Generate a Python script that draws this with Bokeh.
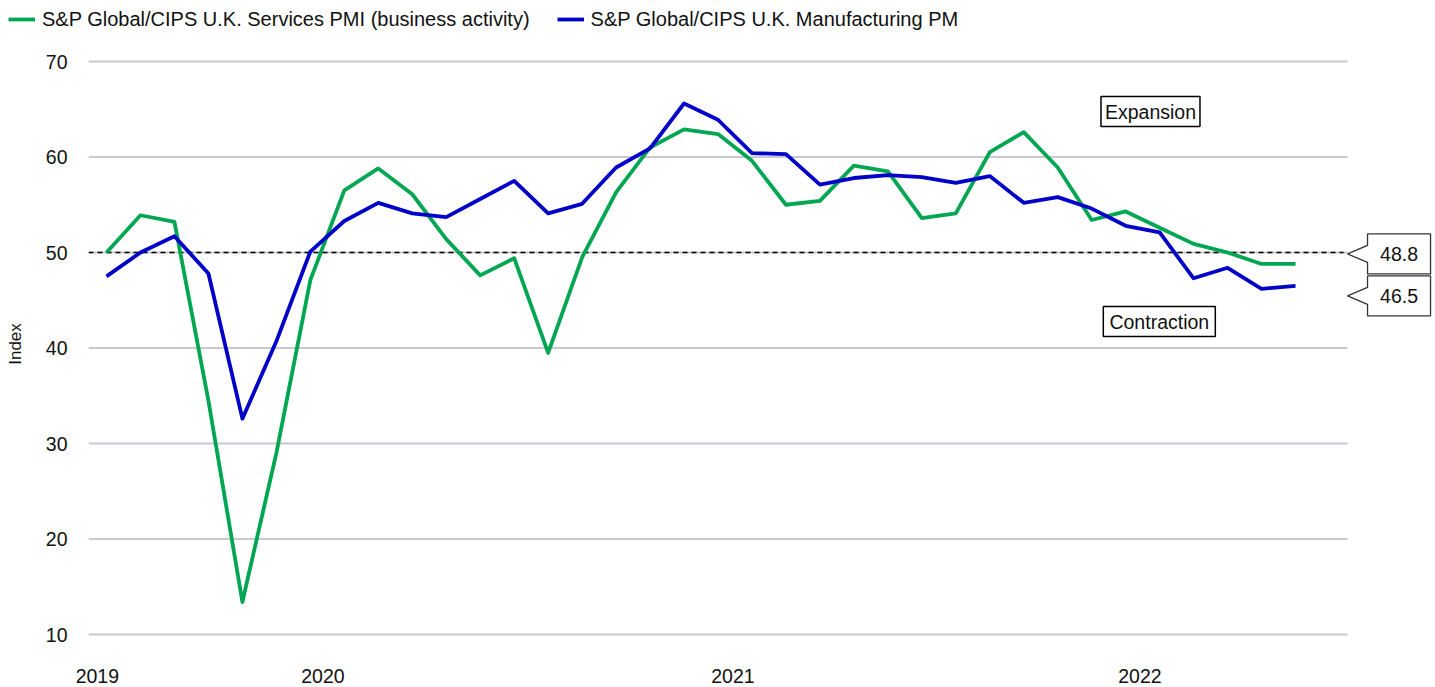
from bokeh.plotting import figure
from bokeh.models import FixedTicker, Legend, LegendItem
from bokeh.core.properties import value
from bokeh.embed import file_html
from bokeh.resources import INLINE

# ---------------- data ----------------
months = ["2019-12", "2020-01", "2020-02", "2020-03", "2020-04", "2020-05", "2020-06",
          "2020-07", "2020-08", "2020-09", "2020-10", "2020-11", "2020-12",
          "2021-01", "2021-02", "2021-03", "2021-04", "2021-05", "2021-06",
          "2021-07", "2021-08", "2021-09", "2021-10", "2021-11", "2021-12",
          "2022-01", "2022-02", "2022-03", "2022-04", "2022-05", "2022-06",
          "2022-07", "2022-08", "2022-09", "2022-10", "2022-11"]
services = [50.0, 53.9, 53.2, 34.5, 13.4, 29.0, 47.1, 56.5, 58.8, 56.1, 51.4, 47.6,
            49.4, 39.5, 49.5, 56.3, 61.0, 62.9, 62.4, 59.6, 55.0, 55.4, 59.1, 58.5,
            53.6, 54.1, 60.5, 62.6, 58.9, 53.4, 54.3, 52.6, 50.9, 50.0, 48.8, 48.8]
manufacturing = [47.5, 50.0, 51.7, 47.8, 32.6, 40.7, 50.1, 53.3, 55.2, 54.1, 53.7, 55.6,
                 57.5, 54.1, 55.1, 58.9, 60.9, 65.6, 63.9, 60.4, 60.3, 57.1, 57.8, 58.1,
                 57.9, 57.3, 58.0, 55.2, 55.8, 54.6, 52.8, 52.1, 47.3, 48.4, 46.2, 46.5]
series_names = ["S&P Global/CIPS U.K. Services PMI (business activity)",
                "S&P Global/CIPS U.K. Manufacturing PM"]
y_ticks = [10, 20, 30, 40, 50, 60, 70]
x_tick_pos = [-0.27, 6.37, 18.44, 30.42]
x_tick_labels = ["2019", "2020", "2021", "2022"]
threshold = 50
zone_labels = ["Expansion", "Contraction"]
zone_pos = [(30.73, 64.76), (30.99, 42.77)]

GREEN = "#00A651"
BLUE = "#0000C8"
GRID = "#C8C8CE"
FONT = "Liberation Sans"
TXT = "#111111"

x = list(range(len(months)))
n = len(months)

# frame: 1347 px wide (x 88..1435), 607 px tall (y 40..647)
X0, X1 = -0.53, 39.12
Y0, Y1 = 8.639, 72.199
PXX = (X1 - X0) / 1347.0
PXY = (Y1 - Y0) / 607.0

# ---------------- legend strip (separate root) ----------------
top = figure(width=1435, height=40, output_backend="svg", toolbar_location=None,
             x_range=(0, 1), y_range=(0, 1), x_axis_location=None, y_axis_location=None,
             min_border_left=0, min_border_right=0, min_border_top=0, min_border_bottom=0)
top.outline_line_color = None
top.xgrid.visible = False
top.ygrid.visible = False
# legend swatches take their style from these (off-range) renderers
l1 = top.line(x=[5, 6], y=[5, 6], line_color=GREEN, line_width=3.8)
l2 = top.line(x=[5, 6], y=[5, 6], line_color=BLUE, line_width=3.8)
legend = Legend(items=[LegendItem(label=series_names[0], renderers=[l1]),
                       LegendItem(label=series_names[1], renderers=[l2])],
                orientation="horizontal", location=(8, 9),
                label_text_font=FONT, label_text_font_size="20px",
                label_text_color=TXT,
                glyph_width=27, glyph_height=24, label_height=24, label_standoff=7,
                spacing=27, padding=0, margin=0,
                border_line_alpha=0, background_fill_alpha=0)
top.add_layout(legend, "center")

# ---------------- main chart ----------------
p = figure(width=1435, height=647, output_backend="svg", toolbar_location=None,
           x_range=(X0, X1), y_range=(Y0, Y1),
           min_border_left=88, min_border_right=0, min_border_top=0, min_border_bottom=40)
p.outline_line_color = None
p.xgrid.visible = False
p.ygrid.visible = False

p.yaxis.ticker = FixedTicker(ticks=y_ticks)
p.yaxis.axis_line_color = None
p.yaxis.major_tick_line_color = None
p.yaxis.minor_tick_line_color = None
p.yaxis.major_tick_out = 0
p.yaxis.major_tick_in = 0
p.yaxis.major_label_standoff = 21
p.yaxis.major_label_text_font = FONT
p.yaxis.major_label_text_font_size = "19.5px"
p.yaxis.major_label_text_color = TXT
p.yaxis.axis_label = "Index"
p.yaxis.axis_label_text_font = FONT
p.yaxis.axis_label_text_font_size = "17px"
p.yaxis.axis_label_text_font_style = "normal"
p.yaxis.axis_label_text_color = TXT
p.yaxis.axis_label_standoff = 18

p.xaxis.ticker = FixedTicker(ticks=x_tick_pos)
p.xaxis.major_label_overrides = {pos: lab for pos, lab in zip(x_tick_pos, x_tick_labels)}
p.xaxis.axis_line_color = None
p.xaxis.major_tick_line_color = None
p.xaxis.minor_tick_line_color = None
p.xaxis.major_tick_out = 0
p.xaxis.major_tick_in = 0
p.xaxis.major_label_standoff = 21
p.xaxis.major_label_text_font = FONT
p.xaxis.major_label_text_font_size = "19.5px"
p.xaxis.major_label_text_color = TXT

# gridlines (ending short of the callouts)
gx1 = n - 1 + 52 * PXX
p.segment(x0=[X0] * len(y_ticks), x1=[gx1] * len(y_ticks), y0=y_ticks, y1=y_ticks,
          line_color=GRID, line_width=2)
p.segment(x0=[X0], x1=[gx1 - 4 * PXX], y0=[threshold], y1=[threshold],
          line_color="black", line_width=1.6, line_dash="5 4")

# series
p.line(x, services, line_color=GREEN, line_width=3.8, line_join="round")
p.line(x, manufacturing, line_color=BLUE, line_width=3.8, line_join="round")

# zone labels
for (zx, zy), lab in zip(zone_pos, zone_labels):
    w = 99 if lab == "Expansion" else 112
    p.rect(x=[zx], y=[zy], width=w, height=30, width_units="screen", height_units="screen",
           fill_color="white", line_color="black", line_width=1.5)
    p.text(x=[zx], y=[zy], text=[lab], text_font=value(FONT), text_font_size="19.5px",
           text_align="center", text_baseline="middle", text_color=TXT)

# end-value callouts
last = [services[-1], manufacturing[-1]]
mid = sum(last) / 2.0
box_h = 40 * PXY
centers = [mid + box_h / 2 + 1 * PXY, mid - box_h / 2 - 1 * PXY]
tip_x = n - 1 + 52 * PXX
bl = n - 1 + 72 * PXX
br = n - 1 + 135 * PXX
notch = 8.5 * PXY
xs, ys = [], []
for c in centers:
    xs.append([bl, br, br, bl, bl, tip_x, bl])
    ys.append([c + box_h / 2, c + box_h / 2, c - box_h / 2, c - box_h / 2,
               c - notch, c, c + notch])
p.patches(xs, ys, fill_color="white", line_color="#333333", line_width=1.3)
p.text(x=[(bl + br) / 2] * 2, y=centers, text=["%.1f" % v for v in last],
       text_font=value(FONT), text_font_size="19.5px", text_align="center",
       text_baseline="middle", text_color=TXT)

open("out.html", "w").write(file_html([top, p], INLINE))
